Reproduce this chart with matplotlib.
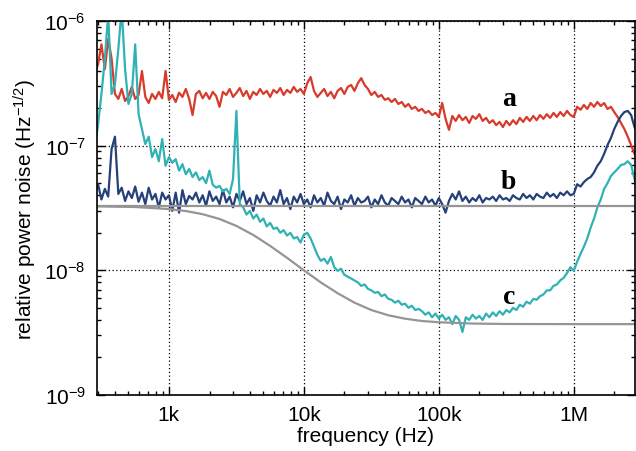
import numpy as np
import matplotlib
matplotlib.use("Agg")
import matplotlib.pyplot as plt
from matplotlib.ticker import LogLocator, FixedLocator, NullFormatter

plt.rcParams['font.family'] = ['Liberation Sans', 'DejaVu Sans']
plt.rcParams['mathtext.fontset'] = 'custom'
plt.rcParams['mathtext.rm'] = 'Liberation Sans'
plt.rcParams['mathtext.it'] = 'Liberation Sans:italic'

# frequency grid: 40 points per decade (mantissas), read-off values in units of 1e-8
mant = [1.000, 1.059, 1.122, 1.189, 1.259, 1.334, 1.413, 1.496, 1.585, 1.679,
        1.778, 1.884, 1.995, 2.113, 2.239, 2.371, 2.512, 2.661, 2.818, 2.985,
        3.162, 3.350, 3.548, 3.758, 3.981, 4.217, 4.467, 4.732, 5.012, 5.309,
        5.623, 5.957, 6.310, 6.683, 7.079, 7.499, 7.943, 8.414, 8.913, 9.441]
decades = [2, 3, 4, 5, 6]
unit = 1e-8

# a: red
noise_a = [37.6, 45, 65, 41, 72, 50, 26, 23.7, 28.5, 22.8,
           25, 29.6, 23.7, 25.5, 39.7, 24.6, 22, 26, 23.7, 27,
           24, 39.7, 23.3, 25.5, 22.4, 26.6, 24.6, 28.5, 23.7, 17.6,
           26, 27.5, 24, 26.5, 23.7, 27, 25, 20.5, 27, 25.5,
           28.5, 24.6, 26.5, 29, 25, 27.5, 23.7, 27, 25.5, 28.5,
           26, 27.5, 24.6, 28, 26.5, 29, 25.5, 28, 26.5, 29.6,
           27, 28.5, 26, 31.7, 35.5, 27.5, 24.6, 26.5, 28.5, 25,
           27, 24, 27.5, 29, 26, 29.6, 30.7, 27.5, 31.7, 34.8,
           30.7, 28.5, 25.5, 27, 24.6, 25.5, 23.3, 24, 22.4, 23.7,
           21.6, 22.4, 20.5, 21.6, 19.7, 20.5, 19, 19.7, 18.3, 19,
           17.6, 18.3, 17, 22, 16.4, 13.4, 17.3, 15.8, 17.6, 16,
           17, 15.2, 17.3, 16.4, 17.9, 15.8, 16.7, 15.2, 16, 14.6,
           15.5, 14.1, 15.8, 14.6, 16, 14.9, 16.7, 15.5, 17, 15.8,
           17.3, 16, 17.6, 16.4, 17.9, 16.7, 18.3, 17, 18.6, 17.3,
           19, 17.6, 17, 20.5, 19.4, 21.2, 19.7, 22, 20.5, 22.4,
           20.8, 22, 19.7, 20.5, 18.6, 17, 15.2, 13.6, 11.8, 10.1,
           8.6, 7.5]

# b: dark blue
noise_b = [4.1, 4.9, 3.7, 4.5, 3.9, 9.4, 11.8, 4.1, 4.6, 3.6,
           4.3, 3.8, 4.7, 3.55, 4.2, 3.4, 4.6, 3.7, 4.1, 3.2,
           4.2, 3.7, 4.0, 3.0, 4.2, 2.9, 4.4, 3.4, 3.95, 3.7,
           4.2, 3.5, 4.0, 3.3, 4.3, 3.6, 3.9, 3.4, 4.4, 3.5,
           3.9, 3.2, 4.1, 3.6, 4.3, 3.4, 3.8, 3.0, 4.0, 3.5,
           4.2, 3.6, 3.3, 3.9, 3.5, 4.4, 3.4, 3.8, 3.1, 3.9,
           3.5, 4.1, 3.4, 3.7, 3.2, 4.0, 3.5, 3.8, 3.3, 4.2,
           3.6, 3.4, 3.9, 3.1, 3.7, 3.5, 4.0, 3.3, 3.8, 3.5,
           3.6, 3.9, 3.2, 3.7, 3.4, 4.0, 3.5, 3.3, 3.8, 3.6,
           3.4, 3.9, 3.5, 3.7, 3.2, 3.8, 3.6, 3.4, 3.9, 3.5,
           3.7, 3.3, 3.8, 3.4, 2.9, 3.6, 4.1, 3.7, 4.3, 3.6,
           3.9, 3.5, 3.8, 3.6, 4.0, 3.5, 3.8, 3.7, 3.9, 3.6,
           4.0, 3.7, 3.8, 3.6, 4.0, 3.8, 3.7, 4.1, 3.8, 4.0,
           3.7, 4.1, 3.9, 3.8, 4.2, 3.9, 4.1, 3.8, 4.2, 4.0,
           4.3, 4.0, 4.1, 4.9, 4.7, 5.1, 5.4, 5.6, 6.1, 6.9,
           7.5, 8.6, 10.1, 11.5, 13.6, 15.5, 17.3, 18.6, 19, 17.6,
           14.1, 12.4]

# c: teal
noise_c = [9.4, 14.9, 26, 49.6, 113, 26, 31.2, 59.6, 125, 41.2,
           21.6, 26, 65, 17.9, 13.6, 10.3, 11.8, 8.1, 9.4, 7.5,
           11.3, 6.9, 8.1, 7.3, 7.8, 6.3, 7.1, 5.9, 6.5, 5.6,
           6.1, 5.3, 5.6, 5.0, 6.3, 4.85, 4.6, 4.75, 4.3, 4.5,
           4.1, 5.4, 19, 3.4, 3.2, 2.8, 3.0, 2.6, 2.8, 2.45,
           2.6, 2.25, 2.4, 2.15, 2.2, 2.0, 2.1, 1.9, 2.0, 1.8,
           1.85, 1.67, 1.93, 2.0, 1.8, 1.55, 1.33, 1.19, 1.24, 1.13,
           1.28, 1.06, 0.99, 1.03, 0.92, 0.89, 0.86, 0.83, 0.80, 0.75,
           0.77, 0.71, 0.69, 0.66, 0.67, 0.62, 0.64, 0.59, 0.58, 0.55,
           0.57, 0.53, 0.54, 0.50, 0.52, 0.48, 0.49, 0.47, 0.44, 0.46,
           0.42, 0.45, 0.41, 0.44, 0.40, 0.42, 0.37, 0.43, 0.40, 0.32,
           0.42, 0.40, 0.44, 0.41, 0.43, 0.40, 0.45, 0.42, 0.46, 0.43,
           0.47, 0.44, 0.48, 0.46, 0.50, 0.48, 0.53, 0.51, 0.56, 0.54,
           0.59, 0.58, 0.62, 0.64, 0.69, 0.69, 0.75, 0.77, 0.83, 0.87,
           0.95, 1.06, 0.99, 1.17, 1.35, 1.55, 1.8, 2.2, 2.6, 3.2,
           3.7, 4.5, 5.0, 5.7, 6.1, 6.5, 7.0, 7.1, 7.5, 7.0,
           5.4, 4.1]

# gray model curves
model_freq = [280, 562, 1000, 1334, 1778, 2371, 3162, 4217, 5623, 7499,
              1e4, 13335, 17783, 23714, 31623, 42170, 56234, 74989, 1e5,
              177828, 316228, 1e6, 3e6]
model_c = [3.26, 3.22, 3.10, 2.99, 2.82, 2.58, 2.27, 1.92, 1.57, 1.26,
           1.00, 0.80, 0.655, 0.55, 0.48, 0.436, 0.409, 0.392, 0.383,
           0.374, 0.371, 0.370, 0.370]
model_b_freq = [280, 3e6]
model_b = [3.3, 3.3]

labels = ['a', 'b', 'c']
label_freq = [3.3e5, 3.3e5, 3.3e5]
label_val = [2.37e-7, 5.2e-8, 6.2e-9]

freq = np.array([m * 10.0 ** d for d in decades for m in mant])[18:18 + len(noise_a)]

fig = plt.figure(figsize=(6.36, 4.52), dpi=100)
ax = fig.add_axes([0.1525, 0.124, 0.8455, 0.8273])

ax.plot(freq, np.array(noise_a) * unit, color='#d83a2c', lw=1.6)
ax.plot(freq, np.array(noise_b) * unit, color='#26407a', lw=1.6)
ax.plot(freq, np.array(noise_c) * unit, color='#30b2b4', lw=1.6)
ax.plot(model_b_freq, np.array(model_b) * unit, color='#959595', lw=1.6)
ax.plot(model_freq, np.array(model_c) * unit, color='#959595', lw=1.6)

for t, fx, fy in zip(labels, label_freq, label_val):
    ax.text(fx, fy, t, family='Liberation Serif', fontweight='bold',
            fontsize=20, ha='center', va='center')

ax.set_xscale('log')
ax.set_yscale('log')
ax.set_xlim(293, 2.83e6)
ax.set_ylim(1e-9, 1e-6)

ax.xaxis.set_major_locator(FixedLocator([1e3, 1e4, 1e5, 1e6]))
ax.set_xticklabels(['1k', '10k', '100k', '1M'])
ax.xaxis.set_minor_locator(LogLocator(base=10, subs=np.arange(2, 10), numticks=20))
ax.xaxis.set_minor_formatter(NullFormatter())
ax.yaxis.set_major_locator(FixedLocator([1e-9, 1e-8, 1e-7, 1e-6]))
ax.set_yticklabels([r'$\mathregular{10^{-9}}$', r'$\mathregular{10^{-8}}$',
                    r'$\mathregular{10^{-7}}$', r'$\mathregular{10^{-6}}$'])
ax.yaxis.set_minor_locator(LogLocator(base=10, subs=np.arange(2, 10), numticks=20))
ax.yaxis.set_minor_formatter(NullFormatter())

ax.tick_params(which='both', direction='in', top=True, right=True, width=1.0)
ax.tick_params(which='major', length=6, labelsize=15)
ax.tick_params(axis='x', which='major', pad=7)
ax.tick_params(axis='y', which='major', pad=8)
ax.tick_params(which='minor', length=3)
for s in ax.spines.values():
    s.set_linewidth(1.2)

ax.grid(True, which='major', color='black', linestyle=(0, (1, 2)), linewidth=0.9)

ax.set_xlabel('frequency (Hz)', fontsize=15, labelpad=2)
ax.set_ylabel(r'relative power noise (Hz$^{\mathregular{-1/2}}$)', fontsize=15, labelpad=4)

fig.savefig('out.png', dpi=100)
